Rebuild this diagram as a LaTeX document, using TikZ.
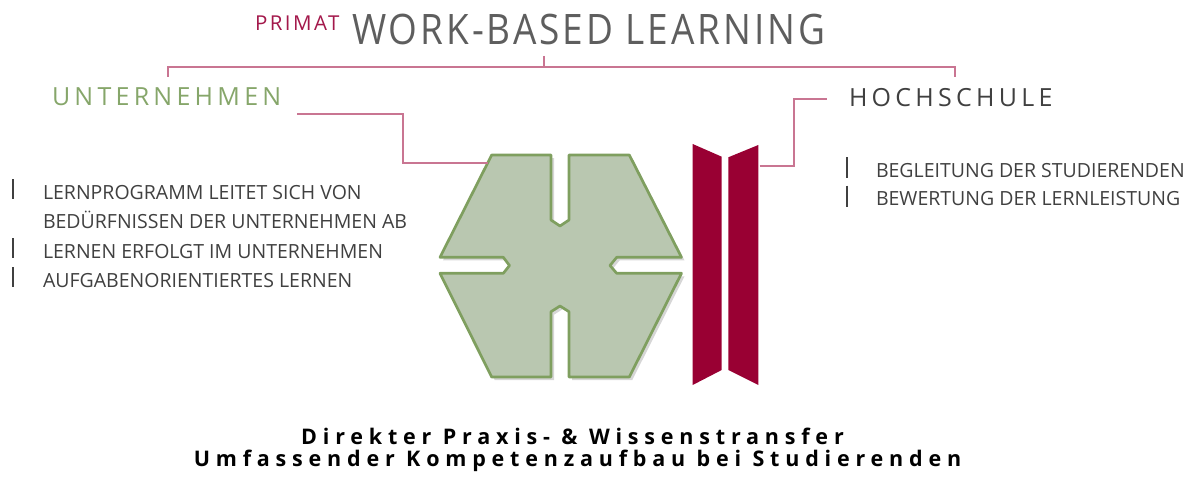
\documentclass[tikz,border=0pt]{standalone}
\usepackage{fontspec}
\usepackage{graphicx}
\setmainfont{Open Sans}
\usetikzlibrary{shadows}
\definecolor{crimson}{HTML}{990033}
\definecolor{primatred}{HTML}{A3184B}
\definecolor{linkpink}{HTML}{C97592}
\definecolor{hexfill}{HTML}{B9C7B0}
\definecolor{hexdraw}{HTML}{7F9F5F}
\definecolor{untgreen}{HTML}{86A66A}
\definecolor{titlegray}{HTML}{5E5E5E}
\definecolor{itemgray}{HTML}{404040}
\begin{document}
\begin{tikzpicture}[x=1pt,y=-1pt,inner sep=0pt,outer sep=0pt,
link/.style={draw=linkpink,line width=1.5pt},
heading/.style={anchor=base west,font={\fontsize{25}{25}\selectfont\addfontfeature{LetterSpace=17}}},
item/.style={anchor=base west,text=itemgray,font={\fontsize{19.5}{20}\selectfont}},
bar/.style={draw=itemgray,line width=1.3pt},
summary/.style={anchor=base,font={\fontsize{21.5}{20}\selectfont\bfseries\addfontfeature{LetterSpace=27}}},
hexblock/.style={fill=hexfill,draw=hexdraw,line width=2.7pt,line join=round,
  drop shadow={shadow xshift=3pt,shadow yshift=-3pt,opacity=.4,fill=black!40}},
barblock/.style={fill=crimson}]
\useasboundingbox (0,0) rectangle (1191,484);
% title
\draw (255,31) node[anchor=base west,text=primatred,font={\fontsize{20.5}{20}\selectfont\addfontfeature{LetterSpace=12}}] (primat) {PRIMAT};
\draw (352,45) node[anchor=base west,text=titlegray,font={\fontsize{42}{42}\selectfont\addfontfeature{LetterSpace=8}}] (title) {\scalebox{0.88}[1]{WORK-BASED LEARNING}};
\draw[link] (168,77) -- (168,67) -- (955,67) -- (955,77);
\draw[link] (544,56) -- (544,67);
% headings
\draw (52,106) node[heading,text=untgreen] (unt) {UNTERNEHMEN};
\draw (849,106.5) node[heading,text=itemgray] (hoch) {HOCHSCHULE};
% shapes
\path[hexblock] (491.7,155) -- (551,155) -- (551,220) -- (560,226) -- (569,220) -- (569,155)
  -- (629.3,155) -- (681.5,257.3) -- (616.7,257.3) -- (610,265.5) -- (616.7,273.3)
  -- (681.5,273.3) -- (629.3,377) -- (569,377) -- (569,311.7) -- (560,306) -- (551,311.7)
  -- (551,377) -- (491.7,377) -- (440,273.3) -- (503.3,273.3) -- (509.5,265.5)
  -- (503.3,257.3) -- (440,257.3) -- cycle;
\path[barblock] (692.7,144) -- (721.7,156.7) -- (721.7,370) -- (692.7,385) -- cycle;
\path[barblock] (728.3,157.3) -- (758.3,145) -- (758.3,385) -- (728.3,370) -- cycle;
\coordinate (untL) at (297,114);
\coordinate (hexNW) at (488,163);
\coordinate (barE) at (759.5,166);
\coordinate (hochL) at (827,99);
\draw[link] (untL) -| (403,163) -- (hexNW);
\draw[link] (barE) -| (794,99) -- (hochL);
% items
\draw (43,199.3) node[item] (u1) {LERNPROGRAMM LEITET SICH VON};
\draw (43,228.5) node[item] (u2) {BEDÜRFNISSEN DER UNTERNEHMEN AB};
\draw (43,258) node[item] (u3) {LERNEN ERFOLGT IM UNTERNEHMEN};
\draw (43,287) node[item] (u4) {AUFGABENORIENTIERTES LERNEN};
\foreach \b in {199.3,258,287} \draw[bar] (13,\b-20) -- (13,\b);
\draw (876,177.3) node[item] (h1) {BEGLEITUNG DER STUDIERENDEN};
\draw (876,205.7) node[item] (h2) {BEWERTUNG DER LERNLEISTUNG};
\foreach \b in {177.3,205.7} \draw[bar] (847,\b-20) -- (847,\b+1);
% summary
\draw (572.5,444) node[summary] (s1) {Direkter Praxis- \& Wissenstransfer};
\draw (577.5,466) node[summary] (s2) {Umfassender Kompetenzaufbau bei Studierenden};
\end{tikzpicture}
\end{document}
